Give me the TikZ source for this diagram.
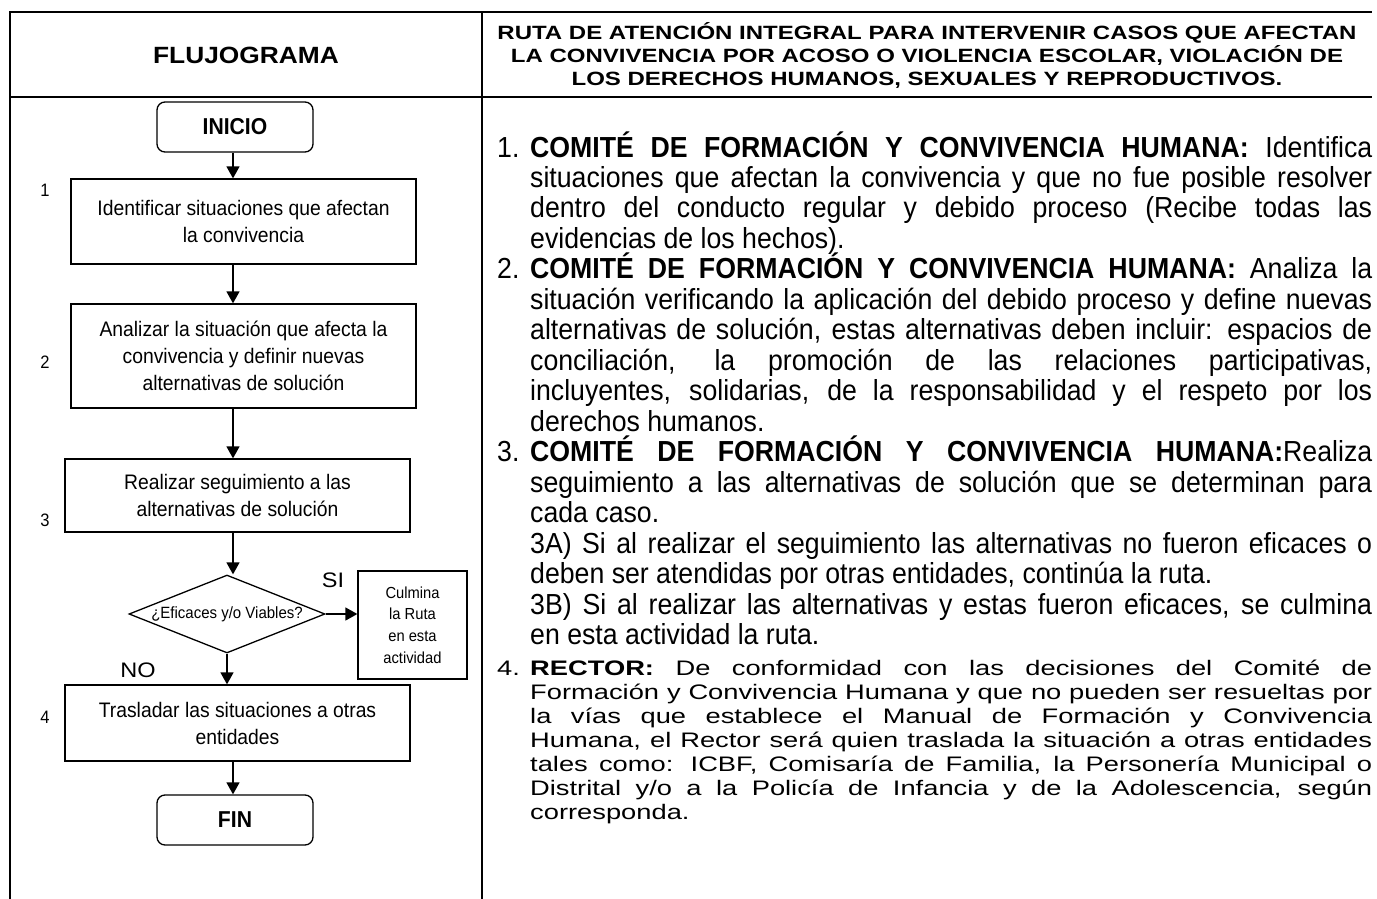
\documentclass[tikz,border=0pt]{standalone}
\usepackage{fontspec}
\setmainfont{Liberation Sans}
\newfontfamily\widefont[FakeStretch=1.12]{Liberation Sans}
\newfontfamily\anchofont[FakeStretch=1.25]{Liberation Sans}
\newfontfamily\extrafont[FakeStretch=1.3]{Liberation Sans}
\newfontfamily\condfont[FakeStretch=0.92]{Liberation Sans}
\usetikzlibrary{arrows.meta,shapes.geometric}

\hbadness=10000 \vbadness=10000 \tolerance=9999 \hfuzz=4pt
\newcommand{\cuerpo}{\condfont\fontsize{29}{30.5}\selectfont\lineskiplimit=-100pt}
\newcommand{\cuerpoancho}{\extrafont\fontsize{21}{24}\selectfont\lineskiplimit=-100pt}
\newcommand{\paso}[1]{\par\hangindent=33pt\hangafter=1\noindent\makebox[33pt][l]{#1}}
\newcommand{\subpaso}{\par\hangindent=33pt\hangafter=0\noindent}

\tikzset{
  linea/.style={line width=1.8pt},
  caja/.style={draw, line width=1.3pt, minimum width=345pt, inner sep=0pt, align=center,
    font=\condfont\fontsize{21}{27}\selectfont},
  terminal/.style={caja, rounded corners=8pt, minimum width=156pt, minimum height=50pt,
    font=\condfont\bfseries\fontsize{23}{26}\selectfont},
  decision/.style={draw, diamond, line width=1.3pt, aspect=2.5, minimum width=196pt,
    minimum height=78pt, inner sep=0pt, font=\condfont\fontsize{16.3}{20}\selectfont},
  numero/.style={font=\condfont\fontsize{18}{20}\selectfont},
  rotulo/.style={font=\widefont\fontsize{21}{24}\selectfont},
  flecha/.style={-{Triangle[length=12pt,width=13pt]}, line width=1.5pt},
}

\begin{document}
\begin{tikzpicture}[x=1pt, y=-1pt]
  \useasboundingbox (0,0) rectangle (1377,899);
  % tabla
  \draw[linea] (10,899) -- (10,12) -- (1372,12);
  \draw[linea] (10,97) -- (1372,97);
  \draw[linea] (482,12) -- (482,899);
  % encabezados
  \node[font=\widefont\bfseries\fontsize{23.5}{28}\selectfont] (titulo) at (246,55) {FLUJOGRAMA};
  \node[align=center, font=\anchofont\bfseries\fontsize{19.2}{23}\selectfont] (ruta) at (927,55)
    {RUTA DE ATENCIÓN INTEGRAL PARA INTERVENIR CASOS QUE AFECTAN\\
     LA CONVIVENCIA POR ACOSO O VIOLENCIA ESCOLAR, VIOLACIÓN DE\\
     LOS DERECHOS HUMANOS, SEXUALES Y REPRODUCTIVOS.};

  % flujograma
  \node[terminal] (inicio) at (235,127) {INICIO};
  \node[caja, minimum height=85pt] (paso1) at (243.5,221.5)
    {Identificar situaciones que afectan\\la convivencia};
  \node[caja, minimum height=104pt] (paso2) at (243.5,356)
    {Analizar la situación que afecta la\\convivencia y definir nuevas\\alternativas de solución};
  \node[caja, minimum height=73pt] (paso3) at (237.5,495.5)
    {Realizar seguimiento a las\\alternativas de solución};
  \node[decision] (decide) at (227,614) {¿Eficaces y/o Viables?};
  \node[caja, minimum width=109pt, minimum height=108pt,
    font=\condfont\fontsize{16}{21.7}\selectfont] (culmina) at (412.5,625)
    {Culmina\\la Ruta\\en esta\\actividad};
  \node[caja, minimum height=76pt] (paso4) at (237.5,723)
    {Trasladar las situaciones a otras\\entidades};
  \node[terminal] (fin) at (235,820) {FIN};

  \foreach \n/\y in {1/190, 2/362, 3/520, 4/717}
    \node[numero] (num\n) at (45,\y) {\n};
  \node[rotulo] (si) at (333,580) {SI};
  \node[rotulo] (no) at (138,670) {NO};

  \coordinate (eje) at (233,0);
  \draw[flecha] (eje |- inicio.south) -- (eje |- paso1.north);
  \draw[flecha] (eje |- paso1.south) -- (eje |- paso2.north);
  \draw[flecha] (eje |- paso2.south) -- (eje |- paso3.north);
  \draw[flecha] (eje |- paso3.south) -- (eje |- decide.north);
  \draw[flecha] (decide.south) -- (decide.south |- paso4.north);
  \draw[flecha] (decide.east) -- (decide.east -| culmina.west);
  \draw[flecha] (eje |- paso4.south) -- (eje |- fin.north);

  % ruta de atencion
  \node[anchor=base west, inner sep=0pt, text width=875pt, align=justify, font=\cuerpo] (texto) at (497,126.5) {%
    \paso{1.}\textbf{COMITÉ DE FORMACIÓN Y CONVIVENCIA HUMANA:} Identifica\linebreak
    situaciones que afectan la convivencia y que no fue posible resolver\linebreak
    dentro del conducto regular y debido proceso (Recibe todas las\linebreak
    evidencias de los hechos).
    \paso{2.}\textbf{COMITÉ DE FORMACIÓN Y CONVIVENCIA HUMANA:} Analiza la\linebreak
    situación verificando la aplicación del debido proceso y define nuevas\linebreak
    alternativas de solución, estas alternativas deben incluir: espacios de\linebreak
    conciliación, la promoción de las relaciones participativas,\linebreak
    incluyentes, solidarias, de la responsabilidad y el respeto por los\linebreak
    derechos humanos.
    \paso{3.}\textbf{COMITÉ DE FORMACIÓN Y CONVIVENCIA HUMANA:}Realiza\linebreak
    seguimiento a las alternativas de solución que se determinan para\linebreak
    cada caso.
    \subpaso 3A) Si al realizar el seguimiento las alternativas no fueron eficaces o\linebreak
    deben ser atendidas por otras entidades, continúa la ruta.
    \subpaso 3B) Si al realizar las alternativas y estas fueron eficaces, se culmina\linebreak
    en esta actividad la ruta.\par
    \vskip 7pt
    \cuerpoancho
    \paso{4.}\textbf{RECTOR:} De conformidad con las decisiones del Comité de\linebreak
    Formación y Convivencia Humana y que no pueden ser resueltas por\linebreak
    la vías que establece el Manual de Formación y Convivencia\linebreak
    Humana, el Rector será quien traslada la situación a otras entidades\linebreak
    tales como: ICBF, Comisaría de Familia, la Personería Municipal o\linebreak
    Distrital y/o a la Policía de Infancia y de la Adolescencia, según\linebreak
    corresponda.\par};
\end{tikzpicture}
\end{document}
